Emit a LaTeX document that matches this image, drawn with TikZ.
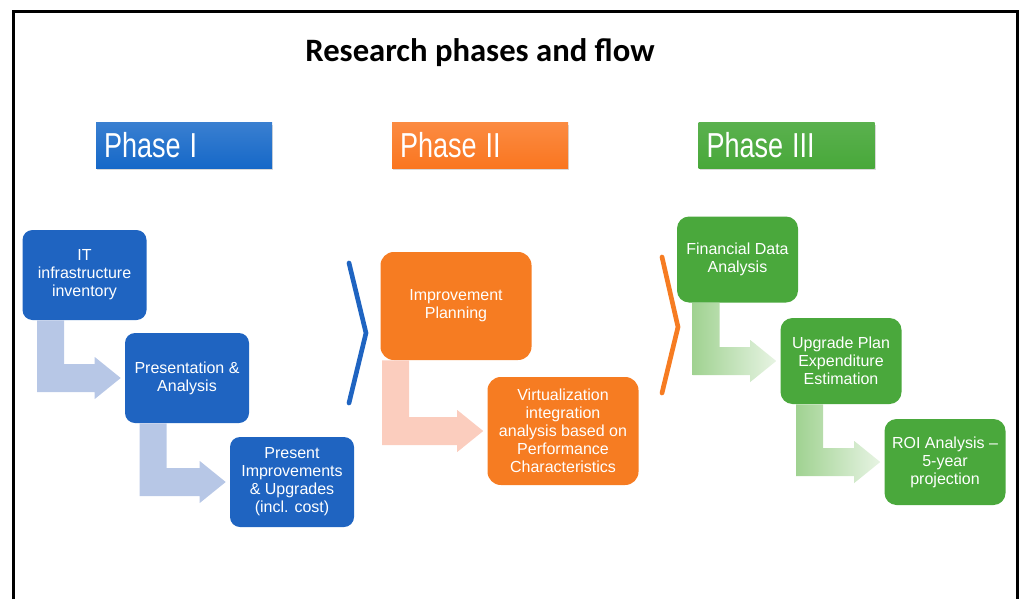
\documentclass[tikz,border=0pt]{standalone}
\usepackage{fontspec}
\setmainfont{Liberation Sans}
\newfontfamily\titlefont{Carlito}
\newfontfamily\phasefont[FakeStretch=0.78]{Liberation Sans}
\usetikzlibrary{calc, shadows}

\definecolor{phaseblue}{RGB}{22,104,200}
\definecolor{boxblue}{RGB}{31,100,193}
\definecolor{arrowblue}{RGB}{183,199,230}
\definecolor{phaseorange}{RGB}{250,118,32}
\definecolor{boxorange}{RGB}{246,124,34}
\definecolor{arroworange}{RGB}{251,205,190}
\definecolor{phasegreen}{RGB}{72,168,58}
\definecolor{boxgreen}{RGB}{74,168,60}
\definecolor{arrowgreen}{RGB}{160,210,145}

% bent arrow: from node, to node, x offset, fill style
\newcommand{\bentarrow}[4]{%
  \path[#4] ($(#1.south west)+(#3,0)$) -- ++(27,0) |- ($(#2.west)+(-30,-14)$) -- ++(0,-7)
    -- ($(#2.west)+(-4,0)$) -- ++(-26,21) -- ++(0,-7) -| ($(#1.south west)+(#3,0)$) -- cycle ;}

\begin{document}
\begin{tikzpicture}[x=0.75pt,y=0.75pt,yscale=-1,
    phasebox/.style={text=white, font=\phasefont\fontsize{26}{30}\selectfont, text width=120pt, align=left,
      inner xsep=6pt, minimum height=33.75pt, drop shadow={shadow xshift=0.8pt, shadow yshift=-1.2pt, opacity=0.3}},
    stepbox/.style={text=white, font=\fontsize{12}{13.5}\selectfont, align=center, inner sep=2pt},
    bluebox/.style={stepbox, fill=boxblue, rounded corners=7.5pt, minimum width=93pt, minimum height=67.5pt},
    orangebox/.style={stepbox, fill=boxorange, rounded corners=10pt, minimum width=113.25pt, minimum height=81pt},
    greenbox/.style={stepbox, fill=boxgreen, rounded corners=9pt, minimum width=90.75pt, minimum height=64.5pt},
    greenfade/.style={left color=arrowgreen, right color=arrowgreen!25!white}]
\useasboundingbox (0,0) rectangle (1019,599);

%Shape: Frame
\draw [line width=1.6pt] (13.5,599) -- (13.5,11.5) -- (1017.5,11.5) -- (1017.5,599) ;

% Text Node
\node [font=\titlefont\bfseries\fontsize{24.5}{28}\selectfont, anchor=base] (title) at (480,62) {Research phases and flow};

% Phase headers
\node [phasebox, top color=phaseblue!85!white, bottom color=phaseblue] (ph1) at (184,145.5) {Phase\hspace{-2pt} I};
\node [phasebox, top color=phaseorange!85!white, bottom color=phaseorange] (ph2) at (480,145.5) {Phase\hspace{-2pt} II};
\node [phasebox, top color=phasegreen!90!white, bottom color=phasegreen] (ph3) at (786.5,145.5) {Phase\hspace{-2pt} III};

% Phase I boxes
\node [bluebox] (inv) at (84.5,275) {IT\\infrastructure\\inventory};
\node [bluebox] (pres) at (187,378) {Presentation \&\\Analysis};
\node [bluebox] (upgr) at (292,482) {Present\\Improvements\\\& Upgrades\\(incl. cost)};

% Phase II boxes
\node [orangebox] (plan) at (456,306) {Improvement\\Planning};
\node [orangebox] (virt) at (563,431) {Virtualization\\integration\\analysis based on\\Performance\\Characteristics};

% Phase III boxes
\node [greenbox] (fin) at (737.5,259.5) {Financial Data\\Analysis};
\node [greenbox] (cost) at (841,361) {Upgrade Plan\\Expenditure\\Estimation};
\node [greenbox] (roi) at (945,462) {ROI Analysis --\\5-year\\projection};

% Bent arrows
\bentarrow{inv}{pres}{15}{fill=arrowblue}
\bentarrow{pres}{upgr}{15}{fill=arrowblue}
\bentarrow{plan}{virt}{2}{fill=arroworange}
\bentarrow{fin}{cost}{16}{greenfade}
\bentarrow{cost}{roi}{16}{greenfade}

%Shape: Chevrons
\draw [boxblue, line width=3.5pt, line cap=round] (349,263) -- (366,333) -- (349,403) ;
\draw [boxorange, line width=3.5pt, line cap=round] (662,257) -- (678,327) -- (662,393) ;

\end{tikzpicture}
\end{document}
